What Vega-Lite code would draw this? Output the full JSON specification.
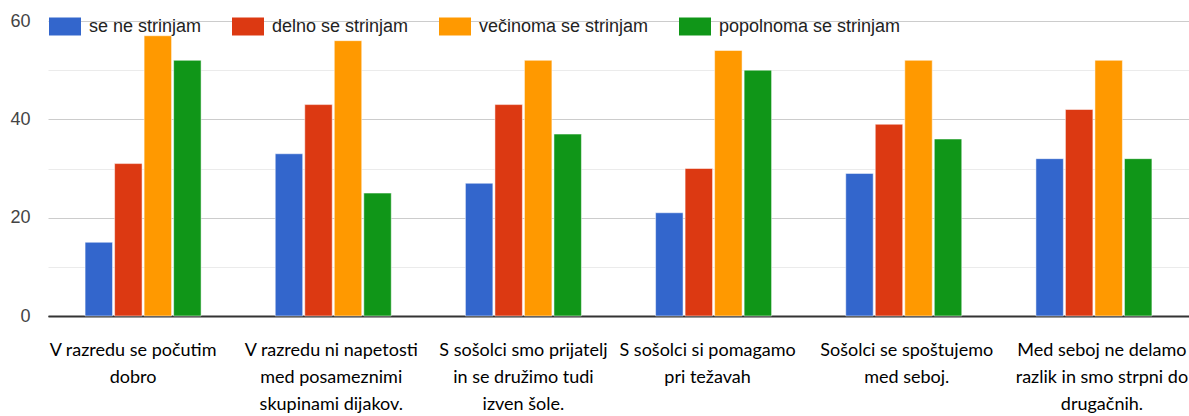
{
  "$schema": "https://vega.github.io/schema/vega-lite/v6.json",
  "width": 1141,
  "height": 295,
  "autosize": {"type": "none"},
  "padding": {"left": 48, "top": 21, "right": 0, "bottom": 100},
  "background": "white",
  "config": {"view": {"stroke": null}, "font": "Liberation Sans"},
  "data": {
    "values": [
      {"izjava": "V razredu se počutim dobro", "odgovor": "se ne strinjam", "stevilo": 15},
      {"izjava": "V razredu se počutim dobro", "odgovor": "delno se strinjam", "stevilo": 31},
      {"izjava": "V razredu se počutim dobro", "odgovor": "večinoma se strinjam", "stevilo": 57},
      {"izjava": "V razredu se počutim dobro", "odgovor": "popolnoma se strinjam", "stevilo": 52},
      {"izjava": "V razredu ni napetosti med posameznimi skupinami dijakov.", "odgovor": "se ne strinjam", "stevilo": 33},
      {"izjava": "V razredu ni napetosti med posameznimi skupinami dijakov.", "odgovor": "delno se strinjam", "stevilo": 43},
      {"izjava": "V razredu ni napetosti med posameznimi skupinami dijakov.", "odgovor": "večinoma se strinjam", "stevilo": 56},
      {"izjava": "V razredu ni napetosti med posameznimi skupinami dijakov.", "odgovor": "popolnoma se strinjam", "stevilo": 25},
      {"izjava": "S sošolci smo prijatelj in se družimo tudi izven šole.", "odgovor": "se ne strinjam", "stevilo": 27},
      {"izjava": "S sošolci smo prijatelj in se družimo tudi izven šole.", "odgovor": "delno se strinjam", "stevilo": 43},
      {"izjava": "S sošolci smo prijatelj in se družimo tudi izven šole.", "odgovor": "večinoma se strinjam", "stevilo": 52},
      {"izjava": "S sošolci smo prijatelj in se družimo tudi izven šole.", "odgovor": "popolnoma se strinjam", "stevilo": 37},
      {"izjava": "S sošolci si pomagamo pri težavah", "odgovor": "se ne strinjam", "stevilo": 21},
      {"izjava": "S sošolci si pomagamo pri težavah", "odgovor": "delno se strinjam", "stevilo": 30},
      {"izjava": "S sošolci si pomagamo pri težavah", "odgovor": "večinoma se strinjam", "stevilo": 54},
      {"izjava": "S sošolci si pomagamo pri težavah", "odgovor": "popolnoma se strinjam", "stevilo": 50},
      {"izjava": "Sošolci se spoštujemo med seboj.", "odgovor": "se ne strinjam", "stevilo": 29},
      {"izjava": "Sošolci se spoštujemo med seboj.", "odgovor": "delno se strinjam", "stevilo": 39},
      {"izjava": "Sošolci se spoštujemo med seboj.", "odgovor": "večinoma se strinjam", "stevilo": 52},
      {"izjava": "Sošolci se spoštujemo med seboj.", "odgovor": "popolnoma se strinjam", "stevilo": 36},
      {"izjava": "Med seboj ne delamo razlik in smo strpni do drugačnih.", "odgovor": "se ne strinjam", "stevilo": 32},
      {"izjava": "Med seboj ne delamo razlik in smo strpni do drugačnih.", "odgovor": "delno se strinjam", "stevilo": 42},
      {"izjava": "Med seboj ne delamo razlik in smo strpni do drugačnih.", "odgovor": "večinoma se strinjam", "stevilo": 52},
      {"izjava": "Med seboj ne delamo razlik in smo strpni do drugačnih.", "odgovor": "popolnoma se strinjam", "stevilo": 32}
    ]
  },
  "mark": {"type": "bar", "stroke": "white", "strokeWidth": 0.5},
  "encoding": {
    "x": {
      "field": "izjava",
      "type": "nominal",
      "sort": null,
      "scale": {"paddingInner": 0.39, "paddingOuter": 0.195},
      "axis": {
        "title": null,
        "labelAngle": 0,
        "domain": true,
        "domainColor": "#333333",
        "domainWidth": 2,
        "ticks": false,
        "labelFont": "Lato",
        "labelFontSize": 18,
        "labelColor": "#000000",
        "labelLineHeight": 27,
        "labelPadding": 25,
        "labelLimit": 0,
        "labelOffset": {
          "condition": [
            {"test": "datum.value == 'V razredu se počutim dobro'", "value": -10},
            {"test": "datum.value == 'V razredu ni napetosti med posameznimi skupinami dijakov.'", "value": -2},
            {"test": "datum.value == 'S sošolci si pomagamo pri težavah'", "value": -6},
            {"test": "datum.value == 'Sošolci se spoštujemo med seboj.'", "value": 3},
            {"test": "datum.value == 'Med seboj ne delamo razlik in smo strpni do drugačnih.'", "value": 8}
          ],
          "value": 0
        },
        "labelExpr": "datum.label == 'V razredu se počutim dobro' ? ['V razredu se počutim', 'dobro'] : datum.label == 'V razredu ni napetosti med posameznimi skupinami dijakov.' ? ['V razredu ni napetosti', 'med posameznimi', 'skupinami dijakov.'] : datum.label == 'S sošolci smo prijatelj in se družimo tudi izven šole.' ? ['S sošolci smo prijatelj', 'in se družimo tudi', 'izven šole.'] : datum.label == 'S sošolci si pomagamo pri težavah' ? ['S sošolci si pomagamo', 'pri težavah'] : datum.label == 'Sošolci se spoštujemo med seboj.' ? ['Sošolci se spoštujemo', 'med seboj.'] : ['Med seboj ne delamo', 'razlik in smo strpni do', 'drugačnih.']"
      }
    },
    "xOffset": {
      "field": "odgovor",
      "type": "nominal",
      "sort": ["se ne strinjam", "delno se strinjam", "večinoma se strinjam", "popolnoma se strinjam"],
      "scale": {"paddingInner": 0.07, "paddingOuter": 0}
    },
    "y": {
      "field": "stevilo",
      "type": "quantitative",
      "scale": {"domain": [0, 60], "nice": false},
      "axis": {
        "title": null,
        "values": [0, 10, 20, 30, 40, 50, 60],
        "labelExpr": "datum.value % 20 === 0 ? datum.label : ''",
        "gridColor": {
          "condition": [
            {"test": "datum.value === 0", "value": "#333333"},
            {"test": "datum.value % 20 === 0", "value": "#cccccc"}
          ],
          "value": "#ebebeb"
        },
        "domain": false,
        "ticks": false,
        "labelPadding": 18,
        "labelFontSize": 18,
        "labelColor": "#444444"
      }
    },
    "color": {
      "field": "odgovor",
      "type": "nominal",
      "sort": ["se ne strinjam", "delno se strinjam", "večinoma se strinjam", "popolnoma se strinjam"],
      "scale": {
        "domain": ["se ne strinjam", "delno se strinjam", "večinoma se strinjam", "popolnoma se strinjam"],
        "range": ["#3366cc", "#dc3912", "#ff9900", "#109618"]
      },
      "legend": {
        "orient": "none",
        "legendX": 1,
        "legendY": -10.5,
        "direction": "horizontal",
        "title": null,
        "padding": 0,
        "symbolType": "M-1,-0.5625H1V0.5625H-1Z",
        "symbolSize": 1024,
        "symbolStrokeWidth": 0,
        "labelFontSize": 18,
        "labelColor": "#222222",
        "labelOffset": 8,
        "columnPadding": 30,
        "labelLimit": 0
      }
    }
  }
}
